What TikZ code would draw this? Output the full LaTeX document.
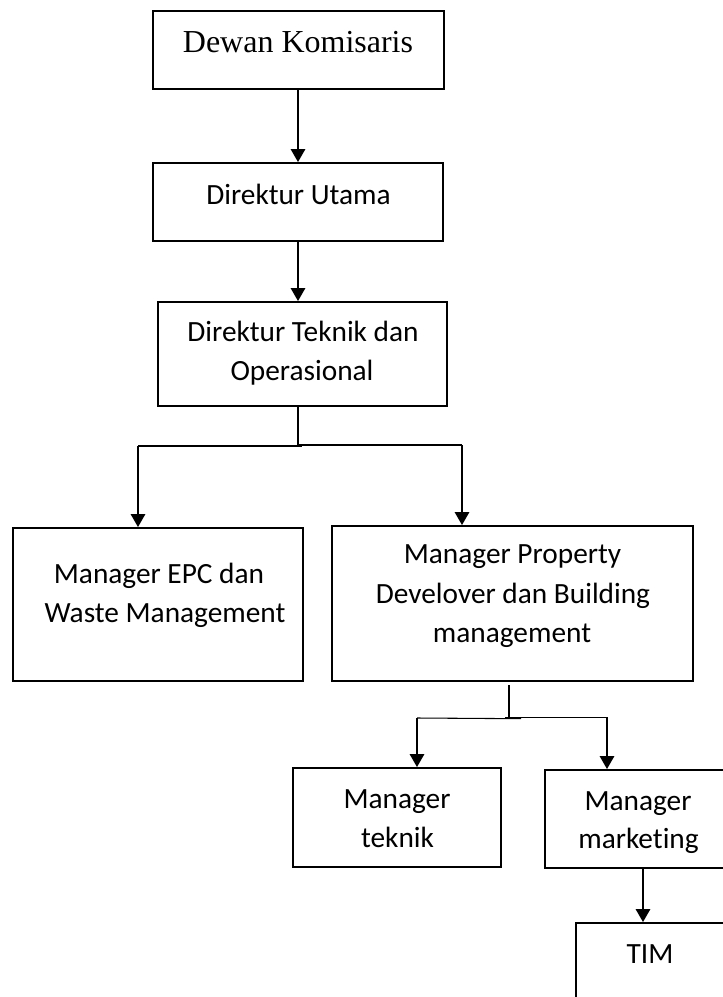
\documentclass[tikz,border=0pt]{standalone}
\usepackage{fontspec}
\setmainfont{Liberation Serif}
\newfontfamily\calfont[Ligatures=NoCommon]{Carlito}
\usetikzlibrary{arrows.meta}
\tikzset{
  box/.style={draw, line width=1.5pt, inner sep=0pt},
  txt/.style={font=\calfont\fontsize{22}{26}\selectfont, inner sep=0pt, anchor=base},
  sertxt/.style={font=\fontsize{24}{28}\selectfont, inner sep=0pt, anchor=base},
  conn/.style={line width=0.8pt},
  arr/.style={line width=0.8pt, -{Triangle[length=9.75pt,width=11pt]}}
}
\begin{document}
\begin{tikzpicture}[x=0.75pt,y=-0.75pt]
\useasboundingbox (0,0) rectangle (723,997);
\clip (0,0) rectangle (723,997);
\fill[white] (0,0) rectangle (723,997);

% boxes
\node[box, minimum width=218.25pt, minimum height=58.5pt] (dk) at (298.5,50) {};
\node[box, minimum width=217.5pt, minimum height=58.5pt] (du) at (298,202) {};
\node[box, minimum width=216.75pt, minimum height=78pt] (dt) at (302.5,354) {};
\node[box, minimum width=217.5pt, minimum height=114.75pt] (epc) at (158,604.5) {};
\node[box, minimum width=270.75pt, minimum height=116.25pt] (prop) at (512.5,603.5) {};
\node[box, minimum width=156pt, minimum height=74.25pt] (tek) at (397,817.5) {};
\node[box, minimum width=139.5pt, minimum height=73.5pt] (mkt) at (638,819) {};
\node[box, minimum width=111pt, minimum height=65.25pt] (tim) at (650,966.5) {};

% texts
\node[sertxt] (dkt) at (298,52) {Dewan Komisaris};
\node[txt] (dut) at (298.5,204) {Direktur Utama};
\node[txt] (dta) at (303,341) {Direktur Teknik dan};
\node[txt] (dtb) at (302,380) {Operasional};
\node[txt] (epca) at (159,583) {Manager EPC dan};
\node[txt] (epcb) at (165,622) {Waste Management};
\node[txt] (propa) at (512.5,563) {Manager Property};
\node[txt] (propb) at (513,603) {Develover dan Building};
\node[txt] (propc) at (512,642) {management};
\node[txt] (teka) at (397,808) {Manager};
\node[txt] (tekb) at (397.5,847) {teknik};
\node[txt] (mkta) at (638,810) {Manager};
\node[txt] (mktb) at (638.5,848) {marketing};
\node[txt] (timt) at (650,963) {TIM};

% junction coordinates
\coordinate (j1) at (298,445);
\coordinate (jl) at (138,446);
\coordinate (jr) at (462,445);
\coordinate (j2) at (509,718);
\coordinate (kl) at (417,718);
\coordinate (kr) at (607,718);
\coordinate (m1) at (643,868);

% connectors
\draw[arr] (dk.south -| j1) -- (j1 |- du.north);
\draw[arr] (du.south -| j1) -- (j1 |- dt.north);
\draw[conn] (dt.south -| j1) -- (j1);
\draw[conn] (jl) -- (302,446);
\draw[conn] (j1) -- (jr);
\draw[arr] (jl) -- (jl |- epc.north);
\draw[arr] (jr) -- (jr |- prop.north);

\draw[conn] (509,685) -- (j2);
\draw[conn] (kl) -- (521,718.7);
\draw[conn] (505,717.6) -- (608,717.6);
\draw[arr] (kl) -- (kl |- tek.north);
\draw[arr] (kr) -- (kr |- mkt.north);
\draw[arr] (mkt.south -| m1) -- (m1 |- tim.north);
\end{tikzpicture}
\end{document}
